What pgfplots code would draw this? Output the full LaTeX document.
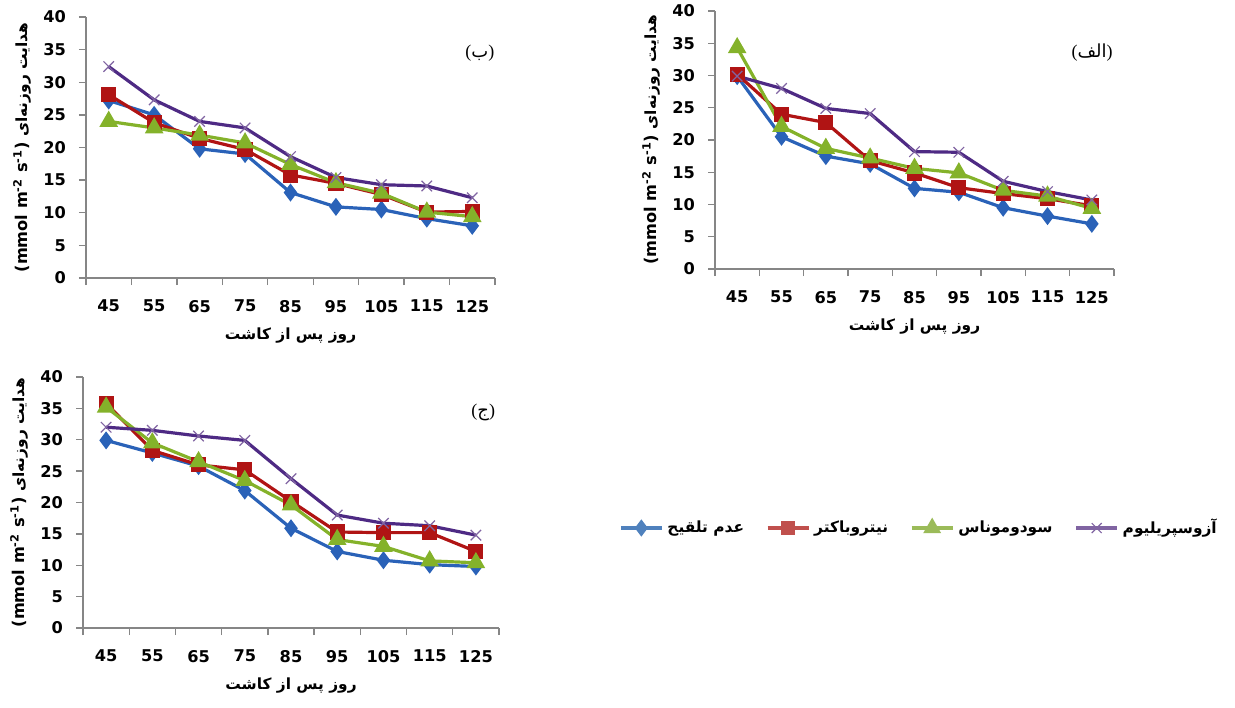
\documentclass[border=0pt]{standalone}
\usepackage{fontspec}
\setmainfont{DejaVu Sans}
\newfontfamily\arabicfont[Script=Arabic]{DejaVu Sans}
\newfontfamily\serif{Liberation Serif}
\usepackage{pgfplots}
\pgfplotsset{compat=1.18}
\TeXXeTstate=1

\definecolor{cblue}{HTML}{2A62B8}
\definecolor{cred}{HTML}{B01414}
\definecolor{cgreen}{HTML}{84B22A}
\definecolor{cpurp}{HTML}{4E2A84}
\definecolor{lblue}{HTML}{4F81BD}
\definecolor{lred}{HTML}{C0504D}
\definecolor{lgreen}{HTML}{9BBB59}
\definecolor{lpurp}{HTML}{8064A2}
\definecolor{axgray}{HTML}{868686}

\newcommand{\fa}[1]{{\arabicfont\beginR #1\endR}}
\newcommand{\lbl}{\fontsize{8.1}{9.5}\selectfont\bfseries}
\newcommand{\albl}{\fontsize{7.7}{9}\selectfont\bfseries}

\pgfplotsset{
  panel/.style={scale only axis, anchor=south west, clip=false,
    xmin=-0.5, xmax=8.5, ymin=0, ymax=40,
    xtick={-0.5,0.5,...,8.5}, x tick label as interval,
    xticklabels={45,55,65,75,85,95,105,115,125},
    ytick={0,5,...,40},
    axis x line*=bottom, axis y line*=left,
    axis line style={draw=axgray, line width=0.7pt, -},
    tick align=outside, major tick length=3.5pt,
    tick style={draw=axgray, line width=0.7pt},
    tick label style={font=\lbl, /pgf/number format/assume math mode=true},
    yticklabel style={xshift=-3pt}, xticklabel style={yshift=-4pt},
    every axis x label/.style={at={(axis description cs:0.5,0)}, yshift=-29pt, anchor=center},
    every axis y label/.style={at={(axis description cs:0,0.5)}, xshift=-32pt, rotate=90, anchor=center},
    label style={font=\albl},
    xlabel={\fa{روز پس از کاشت}},
    ylabel={{\lbl(mmol m\textsuperscript{-2} s\textsuperscript{-1})} \fa{هدایت روزنه‌ای}},
  },
  sblue/.style={color=cblue, line width=1.6pt, mark=diamond*, mark size=3.2pt, mark options={solid}},
  sred/.style={color=cred, line width=1.6pt, mark=square*, mark size=3pt, mark options={solid}},
  sgreen/.style={color=cgreen, line width=1.6pt, mark=triangle*, mark size=3.8pt, mark options={solid}},
  spurp/.style={color=cpurp, line width=1.6pt, mark=x, mark size=3.7pt, mark options={solid, line width=0.6pt, draw=lpurp}},
}
\newcommand{\plab}[3]{\node[font=\fontsize{9}{10}\selectfont] at (axis description cs:#1,#2) {#3};}

\begin{document}
\begin{tikzpicture}
\useasboundingbox (0,0) rectangle (617.5pt,-353.5pt);

% panel (b) top left
\begin{axis}[panel, width=204.5pt, height=130.5pt, at={(43pt,-139pt)}]
\addplot[sblue] coordinates {(0,27.2) (1,25.0) (2,19.8) (3,19.0) (4,13.1) (5,10.9) (6,10.5) (7,9.1) (8,8.0)};
\addplot[sred] coordinates {(0,28.1) (1,23.8) (2,21.4) (3,19.7) (4,15.8) (5,14.5) (6,12.8) (7,10.1) (8,10.2)};
\addplot[sgreen] coordinates {(0,24.0) (1,23.0) (2,21.9) (3,20.7) (4,17.4) (5,14.6) (6,13.0) (7,10.1) (8,9.4)};
\addplot[spurp] coordinates {(0,32.4) (1,27.3) (2,24.0) (3,23.0) (4,18.6) (5,15.4) (6,14.3) (7,14.1) (8,12.3)};
\plab{0.963}{0.862}{{\serif (}\fa{ب}{\serif )}}
\end{axis}

% panel (alef) top right
\begin{axis}[panel, width=199.5pt, height=129pt, at={(357.5pt,-134.5pt)}]
\addplot[sblue] coordinates {(0,29.9) (1,20.5) (2,17.5) (3,16.3) (4,12.5) (5,11.9) (6,9.5) (7,8.2) (8,7.0)};
\addplot[sred] coordinates {(0,30.2) (1,24.0) (2,22.7) (3,16.8) (4,14.9) (5,12.6) (6,11.7) (7,10.9) (8,9.8)};
\addplot[sgreen] coordinates {(0,34.3) (1,22.1) (2,18.7) (3,17.2) (4,15.6) (5,14.9) (6,12.2) (7,11.3) (8,9.4)};
\addplot[spurp] coordinates {(0,29.9) (1,28.0) (2,24.9) (3,24.1) (4,18.2) (5,18.1) (6,13.6) (7,12.0) (8,10.7)};
\plab{0.945}{0.837}{{\serif (}\fa{الف}{\serif )}}
\end{axis}

% panel (jim) bottom left
\begin{axis}[panel, width=208pt, height=125.5pt, at={(41.5pt,-314pt)}]
\addplot[sblue] coordinates {(0,29.9) (1,27.9) (2,25.8) (3,21.9) (4,15.9) (5,12.2) (6,10.8) (7,10.1) (8,9.8)};
\addplot[sred] coordinates {(0,35.8) (1,28.3) (2,26.0) (3,25.2) (4,20.2) (5,15.3) (6,15.2) (7,15.2) (8,12.2)};
\addplot[sgreen] coordinates {(0,35.2) (1,29.5) (2,26.5) (3,23.5) (4,19.6) (5,14.1) (6,13.0) (7,10.7) (8,10.4)};
\addplot[spurp] coordinates {(0,32.0) (1,31.5) (2,30.6) (3,29.9) (4,23.8) (5,18.0) (6,16.7) (7,16.3) (8,14.8)};
\plab{0.962}{0.857}{{\serif (}\fa{ج}{\serif )}}
\end{axis}

% legend
\begin{axis}[hide axis, scale only axis, width=10pt, height=10pt, at={(460pt,-264pt)}, anchor=center,
  xmin=0, xmax=1, ymin=0, ymax=1, legend columns=4,
  legend style={at={(0.5,0.5)}, anchor=center, draw=none, fill=none, font=\albl,
    /tikz/every even column/.append style={column sep=9pt}},
  legend image code/.code={\draw[mark repeat=2, mark phase=2, #1] plot coordinates {(0cm,0cm) (0.36cm,0cm) (0.72cm,0cm)};}]
\addlegendimage{lblue, line width=1.6pt, mark=diamond*, mark size=3pt}
\addlegendentry{\fa{عدم تلقیح}}
\addlegendimage{lred, line width=1.6pt, mark=square*, mark size=2.8pt}
\addlegendentry{\fa{نیتروباکتر}}
\addlegendimage{lgreen, line width=1.6pt, mark=triangle*, mark size=3.6pt}
\addlegendentry{\fa{سودوموناس}}
\addlegendimage{lpurp, line width=1.6pt, mark=x, mark size=3.5pt, mark options={line width=0.6pt}}
\addlegendentry{\fa{آزوسپریلیوم}}
\end{axis}
\end{tikzpicture}
\end{document}
